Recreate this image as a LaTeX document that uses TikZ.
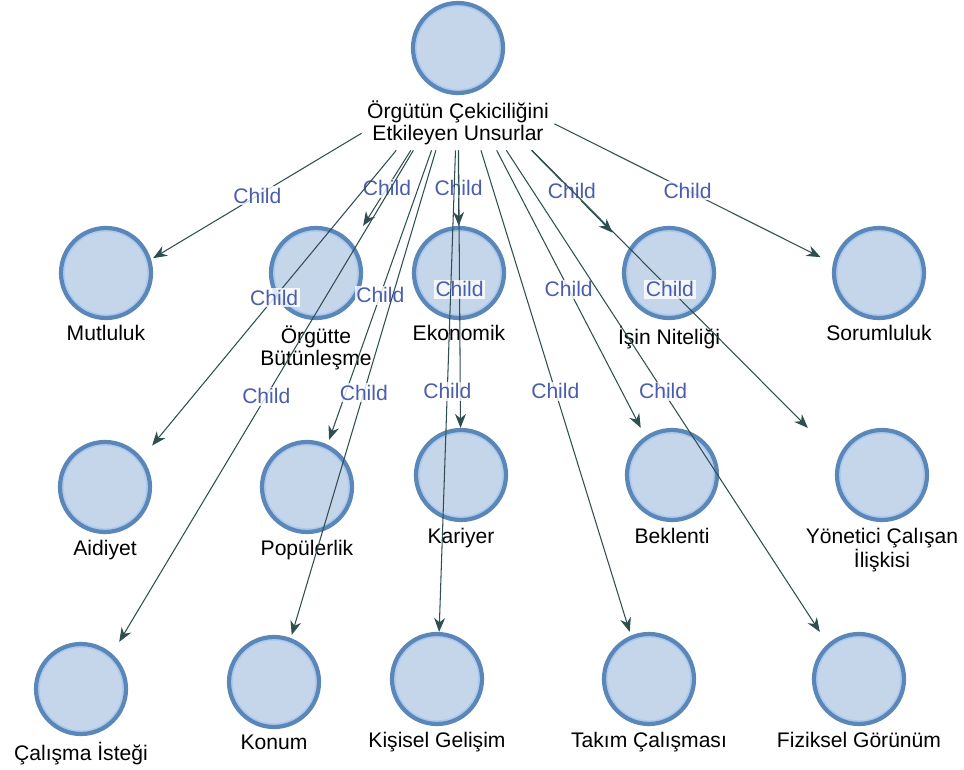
\documentclass[tikz,border=0pt]{standalone}
\usepackage{fontspec}
\setmainfont{Liberation Sans}
\usetikzlibrary{arrows.meta,fit}
\definecolor{bubblefill}{HTML}{C5D5EA}
\definecolor{bubbleline}{HTML}{5B87B8}
\definecolor{bubblering}{HTML}{A9C9F0}
\definecolor{linkcol}{HTML}{2F4F4F}
\definecolor{childcol}{HTML}{4A5DAE}

\begin{document}
\begin{tikzpicture}[
  x=0.02cm, y=-0.02cm,
  bubble/.style={
    circle,
    draw=bubbleline,
    fill=bubblefill,
    line width=2.4pt,
    minimum size=1.8cm,
    inner sep=0pt,
    path picture={\draw[bubblering, line width=0.8pt]
      (path picture bounding box.center) circle (0.84cm);}
  },
  txt/.style={font=\fontsize{12}{12.5}\selectfont, align=center, inner sep=3pt},
  box/.style={rectangle, inner sep=0pt, outer sep=0pt},
  link/.style={-{Stealth[length=2.8mm, width=2.2mm, inset=0.9mm]}, draw=linkcol, line width=0.6pt},
  childlbl/.style={
    font=\fontsize{12}{12.5}\selectfont,
    text=childcol,
    fill=white,
    fill opacity=0.8,
    text opacity=1,
    inner sep=1pt
  }
]
\useasboundingbox (0,0) rectangle (964,770);

% root
\node[bubble, label={[name=rootlbl, txt]below:Örgütün Çekiciliğini\\Etkileyen Unsurlar}] (root) at (458,48) {};
\node[box, fit=(root)(rootlbl)] (rootbox) {};

% first row
\node[bubble, label={[name=mutlbl, txt]below:Mutluluk}] (mut) at (106,273) {};
\node[box, fit=(mut)(mutlbl)] (mutbox) {};
\node[bubble, label={[name=orglbl, txt]below:Örgütte\\Bütünleşme}] (org) at (316,273) {};
\node[box, fit=(org)(orglbl)] (orgbox) {};
\node[bubble, label={[name=ekolbl, txt]below:Ekonomik}] (eko) at (459,273) {};
\node[box, fit=(eko)(ekolbl)] (ekobox) {};
\node[bubble, label={[name=isnlbl, txt]below:İşin Niteliği}] (isn) at (669,273) {};
\node[box, fit=(isn)(isnlbl)] (isnbox) {};
\node[bubble, label={[name=sorlbl, txt]below:Sorumluluk}] (sor) at (879,273) {};
\node[box, fit=(sor)(sorlbl)] (sorbox) {};

% second row
\node[bubble, label={[name=aidlbl, txt]below:Aidiyet}] (aid) at (105,487) {};
\node[box, fit=(aid)(aidlbl)] (aidbox) {};
\node[bubble, label={[name=poplbl, txt]below:Popülerlik}] (pop) at (307,487) {};
\node[box, fit=(pop)(poplbl)] (popbox) {};
\node[bubble, label={[name=karlbl, txt]below:Kariyer}] (kar) at (461,475) {};
\node[box, fit=(kar)(karlbl)] (karbox) {};
\node[bubble, label={[name=beklbl, txt]below:Beklenti}] (bek) at (672,475) {};
\node[box, fit=(bek)(beklbl)] (bekbox) {};
\node[bubble, label={[name=yonlbl, txt]below:Yönetici Çalışan\\İlişkisi}] (yon) at (882,475) {};
\node[box, fit=(yon)(yonlbl)] (yonbox) {};

% third row
\node[bubble, label={[name=callbl, txt]below:Çalışma İsteği}] (cal) at (81,689) {};
\node[box, fit=(cal)(callbl)] (calbox) {};
\node[bubble, label={[name=konlbl, txt]below:Konum}] (kon) at (274,682) {};
\node[box, fit=(kon)(konlbl)] (konbox) {};
\node[bubble, label={[name=kislbl, txt]below:Kişisel Gelişim}] (kis) at (437,679) {};
\node[box, fit=(kis)(kislbl)] (kisbox) {};
\node[bubble, label={[name=taklbl, txt]below:Takım Çalışması}] (tak) at (649,679) {};
\node[box, fit=(tak)(taklbl)] (takbox) {};
\node[bubble, label={[name=fizlbl, txt]below:Fiziksel Görünüm}] (fiz) at (859,679) {};
\node[box, fit=(fiz)(fizlbl)] (fizbox) {};

% links
\draw[link] (rootbox) -- node[childlbl] {Child} (mutbox);
\draw[link] (rootbox) -- node[childlbl] {Child} (orgbox);
\draw[link] (rootbox) -- node[childlbl] {Child} (ekobox);
\draw[link] (rootbox) -- node[childlbl] {Child} (isnbox);
\draw[link] (rootbox) -- node[childlbl] {Child} (sorbox);
\draw[link] (rootbox) -- node[childlbl] {Child} (aidbox);
\draw[link] (rootbox) -- node[childlbl] {Child} (popbox);
\draw[link] (rootbox) -- node[childlbl] {Child} (karbox);
\draw[link] (rootbox) -- node[childlbl] {Child} (bekbox);
\draw[link] (rootbox) -- node[childlbl] {Child} (yonbox);
\draw[link] (rootbox) -- node[childlbl] {Child} (calbox);
\draw[link] (rootbox) -- node[childlbl] {Child} (konbox);
\draw[link] (rootbox) -- node[childlbl] {Child} (kisbox);
\draw[link] (rootbox) -- node[childlbl] {Child} (takbox);
\draw[link] (rootbox) -- node[childlbl] {Child} (fizbox);

\end{tikzpicture}
\end{document}
